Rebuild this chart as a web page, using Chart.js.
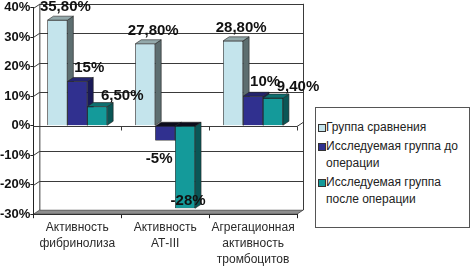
<!DOCTYPE html>
<html>
<head>
<meta charset="utf-8">
<script src="https://cdn.jsdelivr.net/npm/chart.js@4/dist/chart.umd.min.js"></script>
<style>
  body { margin: 0; background: #fff; }
  #wrap { position: relative; width: 474px; height: 269px; }
  #legend {
    position: absolute; left: 315px; top: 107px; width: 155px; height: 121px;
    box-sizing: border-box; border: 1px solid #555; background: #fff;
    font: 12px Arial, "Liberation Sans", sans-serif; color: #222;
    padding: 11px 0 0 2px; line-height: 17px;
  }
  .item { position: relative; padding-left: 8px; margin-bottom: 2px; }
  .sw { position: absolute; left: 0; top: 5px; width: 6px; height: 6px; border: 1px solid #333; }
</style>
</head>
<body>
<div id="wrap">
  <canvas id="c" width="474" height="269"></canvas>
  <div id="legend"></div>
</div>
<script>
// ── ДАННЫЕ ─────────────────────────────────────
const CATEGORIES = [
  ['Активность', 'фибринолиза'],
  ['Активность', 'АТ-III'],
  ['Агрегационная', 'активность', 'тромбоцитов']
];
const SERIES_NAMES = [
  ['Группа сравнения'],
  ['Исследуемая группа до', 'операции'],
  ['Исследуемая группа', 'после операции']
];
const COMPARISON = [35.8, 27.8, 28.8];
const BEFORE_OP  = [15, -5, 10];
const AFTER_OP   = [6.5, -28, 9.4];
const Y_MIN = -30, Y_MAX = 40, Y_STEP = 10;

// ── СТИЛЬ ──────────────────────────────────────
const FRONT = ['#c4e4ec', '#30308f', '#149a9a'];
const SIDE  = ['#5d6e70', '#1a1a58', '#0a5656'];
const TOP   = ['#93a9ab', '#24246e', '#0e7070'];
const LABEL_DX = [8, 12, 25];
const LABEL_DY = [-13, -14, -11];
const DX = 6, DY = 4;

const fmtVal = v => (Number.isInteger(v) ? String(v) : v.toFixed(2).replace('.', ',')) + '%';

function poly(ctx, pts, fill) {
  ctx.beginPath();
  ctx.moveTo(pts[0][0], pts[0][1]);
  pts.slice(1).forEach(p => ctx.lineTo(p[0], p[1]));
  ctx.closePath();
  ctx.fillStyle = fill;
  ctx.fill();
  ctx.strokeStyle = '#222';
  ctx.lineWidth = 0.6;
  ctx.stroke();
}

// задняя стенка, пол, сетка, объёмные грани
const wall3d = {
  id: 'wall3d',
  beforeDatasetsDraw(chart) {
    const { ctx, chartArea: a, scales: { y } } = chart;
    ctx.save();
    poly(ctx, [[a.left, a.bottom], [a.right, a.bottom], [a.right + DX, a.bottom - DY], [a.left + DX, a.bottom - DY]], '#8e8e8e');
    ctx.strokeStyle = '#3a3a3a';
    ctx.lineWidth = 1;
    for (let v = Y_MIN + Y_STEP; v <= Y_MAX; v += Y_STEP) {
      if (v === 0) continue;
      const py = Math.round(y.getPixelForValue(v)) + 0.5;
      ctx.beginPath();
      ctx.moveTo(a.left, py);
      ctx.lineTo(a.left + DX, py - DY);
      ctx.lineTo(a.right + DX, py - DY);
      ctx.stroke();
    }
    // края стенки
    ctx.beginPath();
    ctx.moveTo(a.left + DX + 0.5, a.top - DY);
    ctx.lineTo(a.left + DX + 0.5, a.bottom - DY);
    ctx.moveTo(a.right + DX + 0.5, a.top - DY);
    ctx.lineTo(a.right + DX + 0.5, a.bottom - DY);
    ctx.stroke();
    // ось категорий на нуле
    const y0 = Math.round(y.getPixelForValue(0)) + 0.5;
    ctx.beginPath();
    ctx.moveTo(a.left, y0);
    ctx.lineTo(a.right, y0);
    ctx.lineTo(a.right + DX, y0 - DY);
    const step = (a.right - a.left) / CATEGORIES.length;
    for (let k = 1; k <= CATEGORIES.length; k++) {
      const px = Math.round(a.left + step * k) + 0.5;
      ctx.moveTo(px, y0);
      ctx.lineTo(px, y0 + 4);
    }
    ctx.stroke();
    ctx.restore();
  },
  afterDatasetsDraw(chart) {
    const { ctx, chartArea: a } = chart;
    const metas = chart.data.datasets.map((d, i) => chart.getDatasetMeta(i));
    ctx.save();
    // слева направо, чтобы передняя грань соседа закрывала боковую
    for (let j = 0; j < CATEGORIES.length; j++) {
      metas.forEach((meta, i) => {
        const bar = meta.data[j];
        const { x, y, base, width } = bar.getProps(['x', 'y', 'base', 'width'], true);
        const l = x - width / 2, r = x + width / 2;
        const top = Math.min(y, base), bottom = Math.max(y, base);
        bar.draw(ctx, a);
        poly(ctx, [[r, top], [r + DX, top - DY], [r + DX, bottom - DY], [r, bottom]], SIDE[i]);
        const neg = y > base;
        poly(ctx, [[l, top], [l + DX, top - DY], [r + DX, top - DY], [r, top]], neg ? '#0c0c1c' : TOP[i]);
      });
    }
    // подписи значений
    ctx.font = 'bold 15px Arial, "Liberation Sans", sans-serif';
    ctx.fillStyle = '#111';
    ctx.textAlign = 'center';
    ctx.textBaseline = 'middle';
    metas.forEach((meta, i) => {
      meta.data.forEach((bar, j) => {
        const v = chart.data.datasets[i].data[j];
        let lx, ly;
        if (v >= 0) {
          lx = bar.x + LABEL_DX[i];
          ly = bar.y + LABEL_DY[i];
        } else {
          lx = bar.x + (i === 1 ? -6 : 3);
          ly = Math.min(bar.y + 18, a.bottom - 13);
        }
        ctx.fillText(fmtVal(v), lx, ly);
      });
    });
    ctx.restore();
  }
};

const series = [COMPARISON, BEFORE_OP, AFTER_OP];

new Chart(document.getElementById('c'), {
  type: 'bar',
  data: {
    labels: CATEGORIES,
    datasets: series.map((data, i) => ({
      label: SERIES_NAMES[i].join(' '),
      data,
      backgroundColor: FRONT[i],
      borderColor: '#222',
      borderWidth: 0.6,
      barPercentage: 1,
      categoryPercentage: 0.68
    }))
  },
  options: {
    responsive: false,
    animation: false,
    layout: { padding: { left: 0, right: 177, top: 0, bottom: 0 } },
    plugins: { legend: { display: false }, tooltip: { enabled: false } },
    scales: {
      x: {
        grid: { drawOnChartArea: false, tickLength: 4, color: '#222', offset: true },
        border: { color: '#222' },
        ticks: {
          color: '#2a2a2a', padding: 2, maxRotation: 0, minRotation: 0, autoSkip: false,
          font: { family: 'Arial, "Liberation Sans", sans-serif', size: 12, lineHeight: 1.3 }
        }
      },
      y: {
        min: Y_MIN, max: Y_MAX,
        grid: { drawOnChartArea: false, tickLength: 3, color: '#222' },
        border: { color: '#222' },
        ticks: {
          stepSize: Y_STEP, color: '#111', padding: 0,
          font: { family: 'Arial, "Liberation Sans", sans-serif', size: 13, weight: 'bold' },
          callback: v => v + '%'
        }
      }
    }
  },
  plugins: [wall3d]
});

// легенда
const legend = document.getElementById('legend');
SERIES_NAMES.forEach((lines, i) => {
  const item = document.createElement('div');
  item.className = 'item';
  const sw = document.createElement('span');
  sw.className = 'sw';
  sw.style.background = FRONT[i];
  item.appendChild(sw);
  lines.forEach((t, k) => {
    if (k) item.appendChild(document.createElement('br'));
    item.appendChild(document.createTextNode(t));
  });
  legend.appendChild(item);
});
</script>
</body>
</html>
